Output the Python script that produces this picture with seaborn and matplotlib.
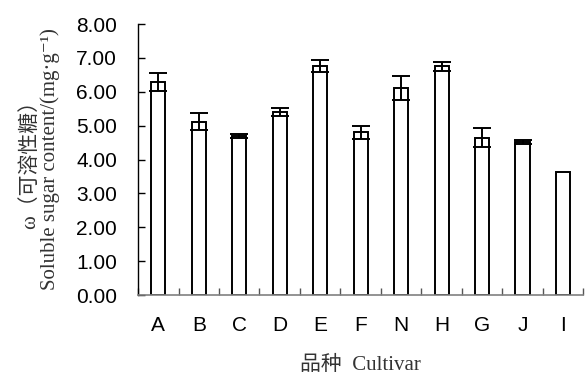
import numpy as np
import pandas as pd
import matplotlib
matplotlib.use('Agg')
import matplotlib.pyplot as plt
import seaborn as sns

cultivars = ['A', 'B', 'C', 'D', 'E', 'F', 'N', 'H', 'G', 'J', 'I']
sugar = [6.29, 5.11, 4.70, 5.40, 6.77, 4.80, 6.12, 6.75, 4.64, 4.53, 3.62]
sugar_err = [0.26, 0.25, 0.05, 0.12, 0.18, 0.19, 0.35, 0.13, 0.28, 0.06, 0.0]
y_ticks = [0, 1, 2, 3, 4, 5, 6, 7, 8]

df = pd.DataFrame({'cultivar': cultivars, 'sugar': sugar, 'err': sugar_err})

sns.set_theme(style='white')
plt.rcParams['font.family'] = ['Liberation Sans', 'Noto Sans CJK SC']

fig = plt.figure(figsize=(5.85, 3.76), dpi=100)
ax = fig.add_axes([0.236, 0.2154, 0.761, 0.7206])

sns.barplot(data=df, x='cultivar', y='sugar', order=cultivars, color='white',
            edgecolor='black', linewidth=1.4, width=0.35, errorbar=None,
            saturation=1, ax=ax)

# error bars at the bar centres
xs = [p.get_x() + p.get_width() / 2 for p in ax.patches]
tops = [p.get_height() for p in ax.patches]
for x, t, e in zip(xs, tops, df['err']):
    if e > 0:
        ax.errorbar(x, t, yerr=e, fmt='none', ecolor='black', elinewidth=1.4,
                    capsize=6.5, capthick=1.4, zorder=5)

ax.set_xlim(-0.5, len(cultivars) - 0.5)
ax.set_ylim(0, 8)
ax.set_yticks(y_ticks)
ax.set_yticklabels([f'{v:.2f}' for v in y_ticks], fontsize=15)
ax.set_xticks(range(len(cultivars)))
ax.set_xticklabels(cultivars, fontsize=15)
ax.set_xticks(np.arange(-0.5, len(cultivars), 1.0), minor=True)

ax.tick_params(axis='y', direction='in', length=5, width=1, color='black',
               left=True, pad=15, labelcolor='black')
ax.tick_params(axis='x', which='major', length=0, pad=15, labelcolor='black')
ax.tick_params(axis='x', which='minor', direction='in', length=5, width=1,
               color='#555555', bottom=True)

for s in ['top', 'right']:
    ax.spines[s].set_visible(False)
ax.spines['left'].set_color('black')
ax.spines['left'].set_linewidth(1.0)
ax.spines['bottom'].set_color('#808080')
ax.spines['bottom'].set_linewidth(1.2)

serif = ['Liberation Serif', 'DejaVu Serif', 'Noto Sans CJK SC']
ax.set_xlabel('品种  Cultivar', fontsize=15, family=serif, color='#333333',
              labelpad=15)
ax.set_ylabel('ω（可溶性糖）\nSoluble sugar content/(mg·g⁻¹)', fontsize=15,
              family=serif, color='#333333', labelpad=12, linespacing=1.0)

fig.savefig('out.png', dpi=100, facecolor='white')
plt.close(fig)
